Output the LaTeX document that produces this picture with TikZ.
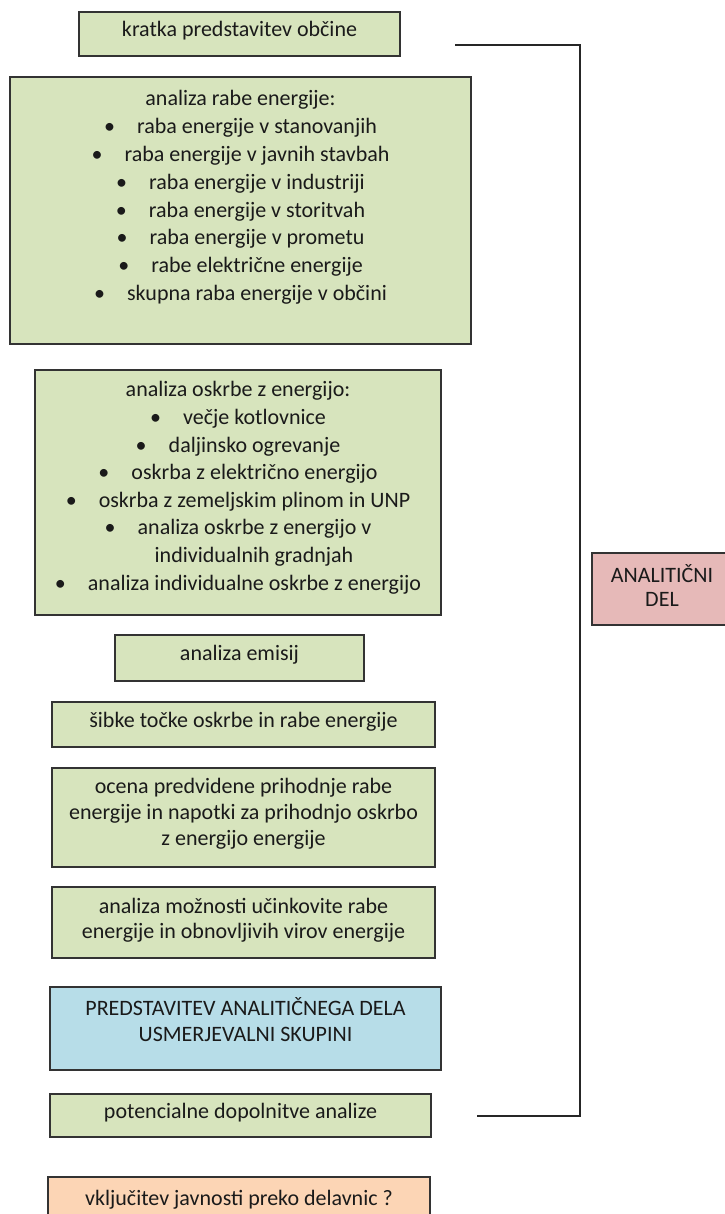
\documentclass[tikz,border=0pt]{standalone}
\usepackage{fontspec}
\setmainfont{Carlito}
\definecolor{boxgreen}{HTML}{D7E4BD}
\definecolor{boxblue}{HTML}{B7DDE8}
\definecolor{boxpink}{HTML}{E6B9B8}
\definecolor{boxorange}{HTML}{FCD5B5}
\definecolor{edgegray}{HTML}{333333}
\definecolor{txt}{HTML}{1A1A1A}
\newcommand\bxtext[5]{\parbox[c][#2][t]{#1}{\fontsize{11pt}{#4}\selectfont\centering\rule{0pt}{#3}#5}}
\newcommand\bul{\makebox[16.5pt][l]{\textbullet}}
\tikzset{
  panel/.style={draw=edgegray, line width=0.9pt, inner sep=0pt, outer sep=0pt, anchor=north west, text=txt, font=\fontsize{11pt}{13.85pt}\selectfont},
  greenpanel/.style={panel, fill=boxgreen},
  bluepanel/.style={panel, fill=boxblue},
  pinkpanel/.style={panel, fill=boxpink},
  orangepanel/.style={panel, fill=boxorange},
  bracketline/.style={draw=black!85, line width=0.8pt}
}
\begin{document}
\begin{tikzpicture}[x=0.5pt,y=-0.5pt]
\fill[white] (0,0) rectangle (724,1214);
\useasboundingbox (0,0) rectangle (724,1214);

\node[greenpanel] (b1) at (79,12) {\bxtext{160.5pt}{22pt}{12.5pt}{13.85pt}{kratka predstavitev občine}};

\node[greenpanel] (b2) at (10,77) {\bxtext{230.5pt}{133.5pt}{14.5pt}{13.9pt}{analiza rabe energije:\\
\bul raba energije v stanovanjih\\
\bul raba energije v javnih stavbah\\
\bul raba energije v industriji\\
\bul raba energije v storitvah\\
\bul raba energije v prometu\\
\bul rabe električne energije\\
\bul skupna raba energije v občini}};

\node[greenpanel] (b3) at (35,370) {\bxtext{203pt}{122.5pt}{13.4pt}{13.8pt}{analiza oskrbe z energijo:\\
\bul večje kotlovnice\\
\bul daljinsko ogrevanje\\
\bul oskrba z električno energijo\\
\bul oskrba z zemeljskim plinom in UNP\\
\bul analiza oskrbe z energijo v\\
\hspace*{16pt}individualnih gradnjah\\
\bul analiza individualne oskrbe z energijo}};

\node[greenpanel] (b4) at (115,635) {\bxtext{124.5pt}{23pt}{12.5pt}{13.85pt}{analiza emisij}};

\node[greenpanel] (b5) at (52,702) {\bxtext{191.5pt}{22.5pt}{12.5pt}{13.85pt}{šibke točke oskrbe in rabe energije}};

\node[greenpanel] (b6) at (52,768) {\bxtext{191.5pt}{49.5pt}{12.5pt}{13pt}{ocena predvidene prihodnje rabe\\energije in napotki za prihodnjo oskrbo\\z energijo energije}};

\node[greenpanel] (b7) at (52,887) {\bxtext{191.5pt}{35.5pt}{13pt}{12.85pt}{analiza možnosti učinkovite rabe\\energije in obnovljivih virov energije}};

\node[bluepanel] (b8) at (50,987) {\bxtext{195.5pt}{41.5pt}{14pt}{13pt}{PREDSTAVITEV ANALITIČNEGA DELA\\USMERJEVALNI SKUPINI}};

\node[greenpanel] (b9) at (50,1094) {\bxtext{190.5pt}{21.5pt}{12pt}{13.85pt}{potencialne dopolnitve analize}};

\node[orangepanel] (b10) at (48,1177) {\bxtext{191pt}{25pt}{14pt}{13.85pt}{vključitev javnosti preko delavnic ?}};

\node[pinkpanel] (ad) at (592,553) {\bxtext{70pt}{36pt}{14.5pt}{12.25pt}{ANALITIČNI\\DEL}};

\coordinate (brA) at (455,45);
\coordinate (brB) at (580,45);
\coordinate (brC) at (580,1116);
\coordinate (brD) at (477,1116);
\draw[bracketline] (brA) -- (brB) -- (brC) -- (brD);
\end{tikzpicture}
\end{document}
